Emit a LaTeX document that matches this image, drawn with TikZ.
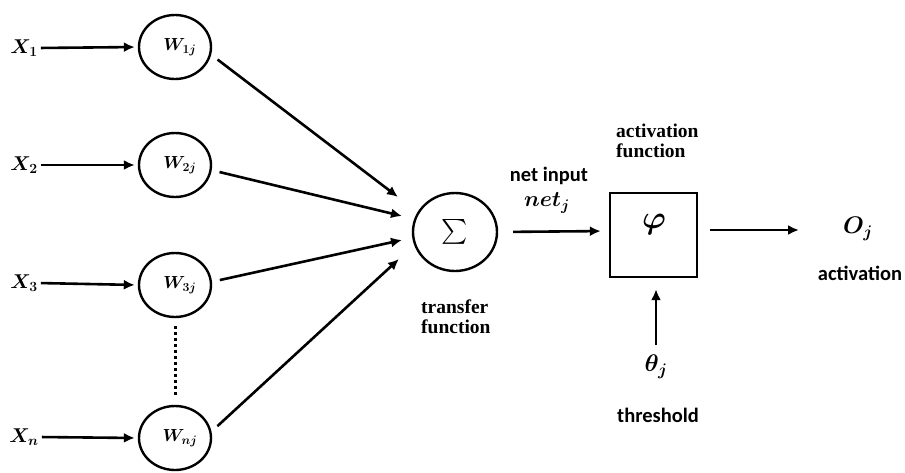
\RequirePackage{fix-cm}
\documentclass[tikz,border=0pt]{standalone}
\usepackage{amsmath,bm}
\usepackage{fontspec}
\newfontfamily\lblsans{Carlito}
\newfontfamily\lblserif{Liberation Serif}[BoldFont={Liberation Serif Bold}]
\usetikzlibrary{arrows.meta,shapes.geometric}
\newcommand\wlab[1]{\hspace*{10pt}$\bm{W_{#1}}$}
\tikzset{
  arr/.style={line width=2.6pt,-{Latex[length=11pt,width=10pt]}},
  wnode/.style={ellipse,draw,line width=2.4pt,minimum width=72pt,minimum height=64pt,inner sep=0pt,font=\fontsize{17.5}{20}\selectfont},
  xlab/.style={inner sep=0pt,font=\fontsize{20}{22}\selectfont,anchor=center},
  mlab/.style={inner sep=0pt,font=\fontsize{24}{26}\selectfont},
  slab/.style={inner sep=0pt,font=\lblsans\bfseries\fontsize{20.5}{22}\selectfont},
  rlab/.style={inner sep=0pt,font=\lblserif\bfseries\fontsize{19.5}{21}\selectfont,align=left},
}
\begin{document}
\begin{tikzpicture}[x=1pt,y=-1pt]
\useasboundingbox (0,0) rectangle (905,472);
% inputs
\node[xlab] (x1) at (24,48) {$\bm{X_1}$};
\node[xlab] (x2) at (24,165) {$\bm{X_2}$};
\node[xlab] (x3) at (24,283) {$\bm{X_3}$};
\node[xlab] (xn) at (24,437) {$\bm{X_n}$};
% weights
\node[wnode] (w1) at (175,47) {\wlab{1j}};
\node[wnode] (w2) at (175,165) {\wlab{2j}};
\node[wnode] (w3) at (175,285) {\wlab{3j}};
\node[wnode] (wn) at (175,438) {\wlab{nj}};
\foreach \a/\b in {x1/w1,x2/w2,x3/w3,xn/wn}
  \draw[arr,shorten <=3pt,shorten >=3pt] (\a.east) -- (\b.west);
\draw[line width=3pt,dash pattern=on 3pt off 3pt] (w3.south) ++(0,8) coordinate (d1) -- (wn.north |- 0,396) coordinate (d2);
% sum
\node[ellipse,draw,line width=2.4pt,minimum width=84pt,minimum height=78pt,inner sep=0pt] (sum) at (455,232) {\fontsize{24}{26}\selectfont$\sum$};
\coordinate (e1) at (398,197);
\coordinate (e2) at (402,216);
\coordinate (e3) at (402,240);
\coordinate (e4) at (399,259);
\draw[arr,shorten <=8pt] (w1.-12) -- (e1);
\draw[arr,shorten <=8pt] (w2.-8) -- (e2);
\draw[arr,shorten <=8pt] (w3.5) -- (e3);
\draw[arr,shorten <=8pt] (wn.10) -- (e4);
\node[rlab,anchor=north west] (tf) at (421,300) {transfer\\[-1pt]function};
% activation box
\node[draw,line width=2.4pt,minimum width=87pt,minimum height=84pt,inner sep=0pt] (act) at (653.5,235) {};
\node[mlab,font=\fontsize{32}{34}\selectfont] (phi) at (654,224) {$\bm{\varphi}$};
\draw[arr,shorten <=15pt,shorten >=8pt] (sum.east) -- (act.west |- 0,231);
\node[slab] (ni) at (549,176) {net input};
\node[mlab,font=\fontsize{22}{24}\selectfont] (net) at (547,203) {$\bm{net_j}$};
\node[rlab,anchor=north west] (af) at (616,124) {activation\\[-1pt]function};
% output
\coordinate (oend) at (823,230);
\node[mlab] (out) at (858,229) {$\bm{O_j}$};
\draw[arr,shorten <=12pt,shorten >=24pt] (act.east |- oend) -- (oend);
\node[slab] (al) at (860,273) {activation};
% threshold
\node[mlab] (th) at (656,367) {$\bm{\theta_j}$};
\draw[arr,shorten <=10pt,shorten >=11pt] (th.north) -- (act.south -| th.north);
\node[slab] (tl) at (658,415) {threshold};
\end{tikzpicture}
\end{document}
